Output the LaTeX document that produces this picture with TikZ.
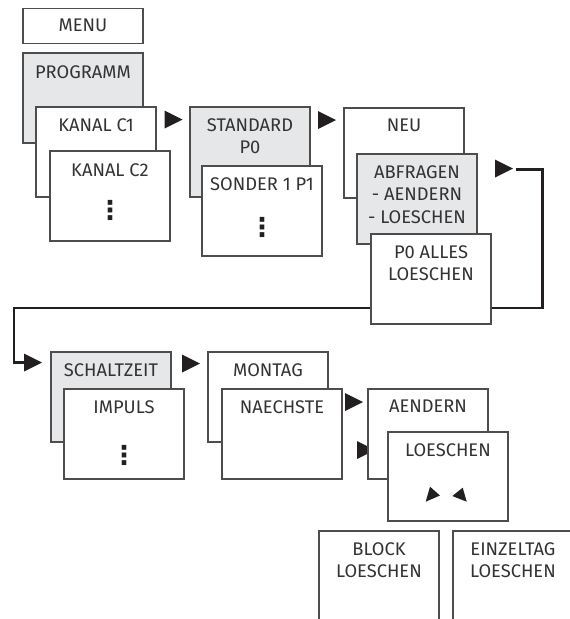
\documentclass[tikz,border=0pt]{standalone}
\usepackage{fontspec}
\setmainfont{Fira Sans}
\newfontfamily\symfont{DejaVu Sans}
\usetikzlibrary{shapes.geometric}
\definecolor{boxgray}{HTML}{E6E7E8}
\definecolor{ink}{HTML}{231F20}
\definecolor{txtc}{HTML}{333333}
\definecolor{edgec}{HTML}{4D4D4D}
\tikzset{
  box/.style={rectangle, draw=edgec, line width=1.1pt, fill=white, anchor=north west,
    minimum width=120pt, minimum height=90pt, inner sep=0pt, outer sep=0pt},
  graybox/.style={box, fill=boxgray},
  lbl/.style={anchor=north, inner sep=0pt, text=txtc, align=center,
    font=\fontsize{18.3}{22.5}\selectfont},
  dotsnode/.style={anchor=center, inner sep=0pt, text=ink, font=\symfont\bfseries\fontsize{26}{26}\selectfont},
  tri/.style={isosceles triangle, isosceles triangle stretches, fill=ink, draw=none,
    inner sep=0pt, outer sep=0pt, minimum width=18pt, minimum height=18pt, anchor=west},
  conn/.style={draw=ink, line width=2.7pt},
}
\begin{document}
\begin{tikzpicture}[x=1pt,y=-1pt]
\useasboundingbox (0,0) rectangle (570,619);
% column 1
\node[box, minimum height=35pt] (menu) at (23,8.5) {};
\node[lbl] (menuT) at ([yshift=-10.5pt]menu.north) {MENU};
\node[graybox] (prog) at (23,53) {};
\node[lbl] (progT) at ([yshift=-12pt]prog.north) {PROGRAMM};
\node[box] (kc1) at (36,107) {};
\node[lbl] (kc1T) at ([yshift=-11pt]kc1.north) {KANAL C1};
\node[box] (kc2) at (50,151) {};
\node[lbl] (kc2T) at ([yshift=-12pt]kc2.north) {KANAL C2};
\node[dotsnode] (kc2D) at (110,210.5) {⋮};
\node[tri] (t1) at (164.5,119.5) {};
% column 2
\node[graybox] (std) at (190,107) {};
\node[lbl] (stdT) at ([yshift=-11pt]std.north) {STANDARD\\P0};
\node[box] (sond) at (202,166) {};
\node[lbl] (sondT) at ([yshift=-11pt]sond.north) {SONDER 1 P1};
\node[dotsnode] (sondD) at (262,227.5) {⋮};
\node[tri] (t2) at (318,120) {};
% column 3
\node[box] (neu) at (344,108) {};
\node[lbl] (neuT) at ([yshift=-11pt]neu.north) {NEU};
\node[graybox] (abf) at (357,154) {};
\node[lbl] (abfT) at ([yshift=-11pt]abf.north) {ABFRAGEN\\- AENDERN\\- LOESCHEN};
\node[tri] (t3) at (495,168.5) {};
\node[tri] (t4) at (24,362.5) {};
\coordinate (k1) at (542.7,169.5);
\coordinate (k2) at (542.7,308);
\coordinate (k3) at (14,308);
\coordinate (k4) at (14,362.5);
\draw[conn] ([xshift=3pt]t3.east |- k1) -- (k1) -- (k2) -- (k3) -- (k4) -- (t4.west);
\node[box] (p0) at (371,234) {};
\node[lbl] (p0T) at ([yshift=-11pt]p0.north) {P0 ALLES\\LOESCHEN};
% row 2
\node[graybox] (sch) at (51,352) {};
\node[lbl] (schT) at ([yshift=-11pt]sch.north) {SCHALTZEIT};
\node[box] (imp) at (64,389) {};
\node[lbl] (impT) at ([yshift=-11pt]imp.north) {IMPULS};
\node[dotsnode] (impD) at (124,455) {⋮};
\node[tri] (t5) at (182,363.5) {};
\node[box] (mon) at (208,352) {};
\node[lbl] (monT) at ([yshift=-11pt]mon.north) {MONTAG};
\node[box] (nae) at (222,389) {};
\node[lbl] (naeT) at ([yshift=-11pt]nae.north) {NAECHSTE};
\node[tri] (t6) at (345,402) {};
\node[tri] (t7) at (357,450) {};
\node[box] (aen) at (368,389) {};
\node[lbl] (aenT) at ([yshift=-11pt]aen.north) {AENDERN};
\node[box, minimum height=89pt] (loe) at (388,432) {};
\node[lbl] (loeT) at ([yshift=-11pt]loe.north) {LOESCHEN};
\fill[ink] (425.7,501.7) -- (430,486.7) -- (440,495.5) -- cycle;
\fill[ink] (452.3,496) -- (462.7,487.7) -- (466.7,501.7) -- cycle;
% bottom, open boxes
\node[box, minimum height=100pt] (blk) at (319,531) {};
\node[lbl] (blkT) at ([yshift=-11pt]blk.north) {BLOCK\\LOESCHEN};
\node[box, minimum height=100pt] (ein) at (453,531) {};
\node[lbl] (einT) at ([yshift=-11pt]ein.north) {EINZELTAG\\LOESCHEN};
\end{tikzpicture}
\end{document}
